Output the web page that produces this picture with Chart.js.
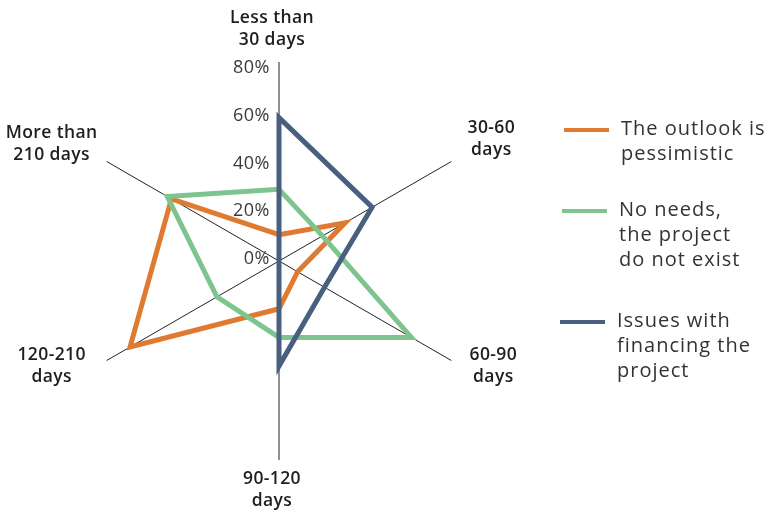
<!DOCTYPE html>
<html>
<head>
<meta charset="utf-8">
<script src="https://cdn.jsdelivr.net/npm/chart.js@4.4.1/dist/chart.umd.min.js"></script>
<style>
  html, body { margin: 0; padding: 0; background: #ffffff; }
  #wrap { width: 771px; height: 516px; }
</style>
</head>
<body>
<div id="wrap"><canvas id="chart" width="771" height="516"></canvas></div>
<script>
// Waiting periods (radar axes, clockwise from the top)
const categories = [
  ['Less than', '30 days'],
  ['30-60', 'days'],
  ['60-90', 'days'],
  ['90-120', 'days'],
  ['120-210', 'days'],
  ['More than', '210 days']
];

// Share of respondents, %
const pessimistic = [11, 32, 9, 20, 72, 52];
const noNeeds     = [30, 21, 64, 32, 30, 54];
const financing   = [60, 45, 22, 44, 0, 0];

// Radial tick labels
const tickValues = [0, 20, 40, 60, 80];

// Series names (wrapped as in the legend)
const seriesNames = [
  ['The outlook is', 'pessimistic'],
  ['No needs,', 'the project', 'do not exist'],
  ['Issues with', 'financing the', 'project']
];

const COLORS = ['#E07A30', '#7DC48E', '#485F80'];
const FONT = '"Open Sans", "DejaVu Sans", sans-serif';

// Axis captions placed just beyond the end of each angle line
const captionShift = [[-7, -33], [40, -22], [42, 6], [-7, 30], [-55, 6], [-55, -17]];

const overlay = {
  id: 'overlay',
  afterDraw(chart) {
    const ctx = chart.ctx;
    const r = chart.scales.r;
    ctx.save();

    // tick labels to the left of the vertical axis
    ctx.font = '18px ' + FONT;
    ctx.letterSpacing = '0.5px';
    ctx.fillStyle = '#3a3a3a';
    ctx.textAlign = 'right';
    ctx.textBaseline = 'middle';
    tickValues.forEach(v => {
      const d = r.getDistanceFromCenterForValue(v);
      ctx.fillText(v + '%', r.xCenter - 9, r.yCenter - d - 2);
    });

    // axis captions
    ctx.font = '600 17.5px ' + FONT;
    ctx.letterSpacing = '0.4px';
    ctx.fillStyle = '#1e1e1e';
    ctx.textAlign = 'center';
    categories.forEach((lines, i) => {
      const p = r.getPointPosition(i, r.drawingArea);
      const cx = p.x + captionShift[i][0];
      const cy = p.y + captionShift[i][1];
      const lh = 22;
      const y0 = cy - (lines.length - 1) * lh / 2;
      lines.forEach((t, k) => ctx.fillText(t, cx, y0 + k * lh));
    });

    // legend
    const legendY = [129, 210, 321];
    ctx.font = '20px ' + FONT;
    ctx.letterSpacing = '1px';
    ctx.fillStyle = '#333333';
    ctx.textAlign = 'left';
    chart.data.datasets.forEach((ds, i) => {
      const y = legendY[i];
      ctx.strokeStyle = ds.borderColor;
      ctx.lineWidth = 4;
      ctx.beginPath();
      ctx.moveTo(564 - i * 2, y + 1);
      ctx.lineTo(609 - i * 2, y + 1);
      ctx.stroke();
      seriesNames[i].forEach((t, k) => ctx.fillText(t, 621 - i * 2, y + k * 25));
    });

    ctx.restore();
  }
};

new Chart(document.getElementById('chart'), {
  type: 'radar',
  data: {
    labels: categories,
    datasets: [
      { label: seriesNames[0].join(' '), data: pessimistic, borderColor: COLORS[0], order: 2 },
      { label: seriesNames[1].join(' '), data: noNeeds, borderColor: COLORS[1], order: 1 },
      { label: seriesNames[2].join(' '), data: financing, borderColor: COLORS[2], order: 0 }
    ].map(d => Object.assign(d, {
      fill: false,
      borderWidth: 5,
      borderJoinStyle: 'miter',
      pointRadius: 0,
      pointHoverRadius: 0,
      tension: 0
    }))
  },
  options: {
    responsive: false,
    animation: false,
    layout: { padding: { left: 80, right: 293, top: 62, bottom: 56 } },
    plugins: { legend: { display: false }, tooltip: { enabled: false } },
    scales: {
      r: {
        min: 0,
        max: 83.3,
        ticks: { display: false, stepSize: 20 },
        grid: { display: false },
        angleLines: { display: true, color: '#222222', lineWidth: 1 },
        pointLabels: { display: false }
      }
    }
  },
  plugins: [overlay]
});
</script>
</body>
</html>
